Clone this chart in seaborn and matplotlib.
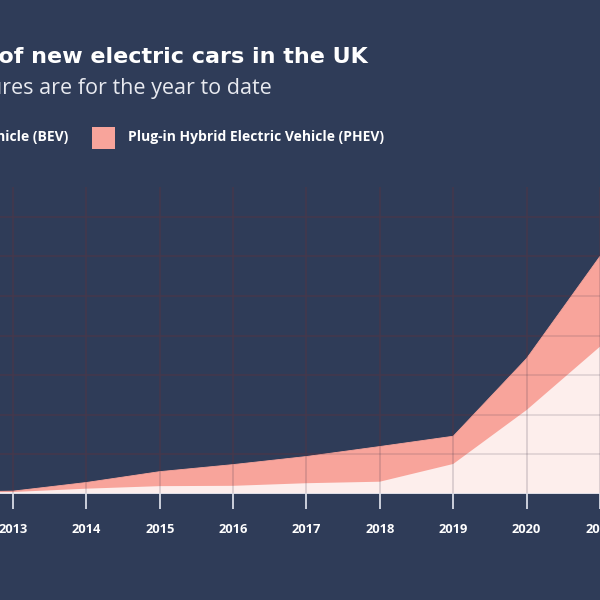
import numpy as np
import pandas as pd
import seaborn as sns
import matplotlib.pyplot as plt
from matplotlib.patches import Rectangle

# new plug-in car registrations in the UK (2021 = year to date)
years = [2012, 2013, 2014, 2015, 2016, 2017, 2018, 2019, 2020, 2021]
bev = [1300, 2500, 6700, 9900, 10300, 13600, 15500, 37900, 106000, 186000]
phev = [1000, 1100, 7800, 18300, 26800, 33700, 44400, 35000, 65000, 114000]
tick_years = [2013, 2014, 2015, 2016, 2017, 2018, 2019, 2020, 2021]
grid_levels = [50000, 100000, 150000, 200000, 250000, 300000, 350000]

BG = "#2f3c58"
BEV_COLOR = "#fdeeec"
PHEV_COLOR = "#f8a49b"
GRID = "#44384d"
WHITE = "#ffffff"

sns.set_style("dark")
plt.rcParams["font.family"] = ["Open Sans", "DejaVu Sans"]

df = pd.DataFrame({"year": years, "BEV": bev, "PHEV": phev})
df["total"] = df["BEV"] + df["PHEV"]

fig = plt.figure(figsize=(6, 6), dpi=100)
fig.patch.set_facecolor(BG)
ax = fig.add_axes([0, 0.1767, 1, 0.5117])
ax.set_facecolor(BG)

for lvl in grid_levels:
    ax.axhline(lvl, color=GRID, lw=1.1, zorder=1)
for yr in tick_years:
    ax.axvline(yr, color=GRID, lw=1.1, zorder=1)

ax.fill_between(df["year"], 0, df["total"], color=PHEV_COLOR, lw=0, zorder=2)
ax.fill_between(df["year"], 0, df["BEV"], color=BEV_COLOR, lw=0, zorder=3)
sns.lineplot(data=df, x="year", y="total", color=PHEV_COLOR, lw=0.6, ax=ax, zorder=2)
ax.axhline(0, color="#d8dbe5", lw=1.2, zorder=4)
# grid shows faintly through the areas
for lvl in grid_levels:
    ax.axhline(lvl, color=GRID, lw=1.1, alpha=0.18, zorder=3.5)
for yr in tick_years:
    ax.axvline(yr, color=GRID, lw=1.1, alpha=0.22, zorder=3.5)

ax.set_xlim(2012.823, 2020.978)
ax.set_ylim(0, 387600)
ax.set_xticks(tick_years)
ax.set_xticklabels([str(y) for y in tick_years])
ax.set_yticks([])
ax.set_xlabel("")
ax.set_ylabel("")
ax.tick_params(axis="x", bottom=True, length=11, width=1.3, color="#d8dbe5",
               pad=10, labelsize=9.3, labelcolor=WHITE)
for lab in ax.get_xticklabels():
    lab.set_fontweight("bold")
for s in ax.spines.values():
    s.set_visible(False)
ax.grid(False)

# title, subtitle, legend (cropped at the left edge like the reference)
fig.text(368 / 600, 1 - 57 / 600, "Number of new electric cars in the UK",
         ha="right", va="center", fontsize=16, fontweight="bold", color=WHITE,
         family=["DejaVu Sans"])
fig.text(272 / 600, 1 - 88 / 600, "2021 figures are for the year to date",
         ha="right", va="center", fontsize=15.5, color="#e8eaf0")
fig.text(68 / 600, 1 - 137 / 600, "Battery Electric Vehicle (BEV)",
         ha="right", va="center", fontsize=10, fontweight="bold", color=WHITE)
fig.patches.append(Rectangle((92 / 600, 1 - 149 / 600), 23 / 600, 22 / 600,
                             transform=fig.transFigure, facecolor=PHEV_COLOR,
                             edgecolor="none"))
fig.text(128 / 600, 1 - 137 / 600, "Plug-in Hybrid Electric Vehicle (PHEV)",
         ha="left", va="center", fontsize=10, fontweight="bold", color=WHITE)

fig.savefig("out.png", dpi=100, facecolor=BG)
